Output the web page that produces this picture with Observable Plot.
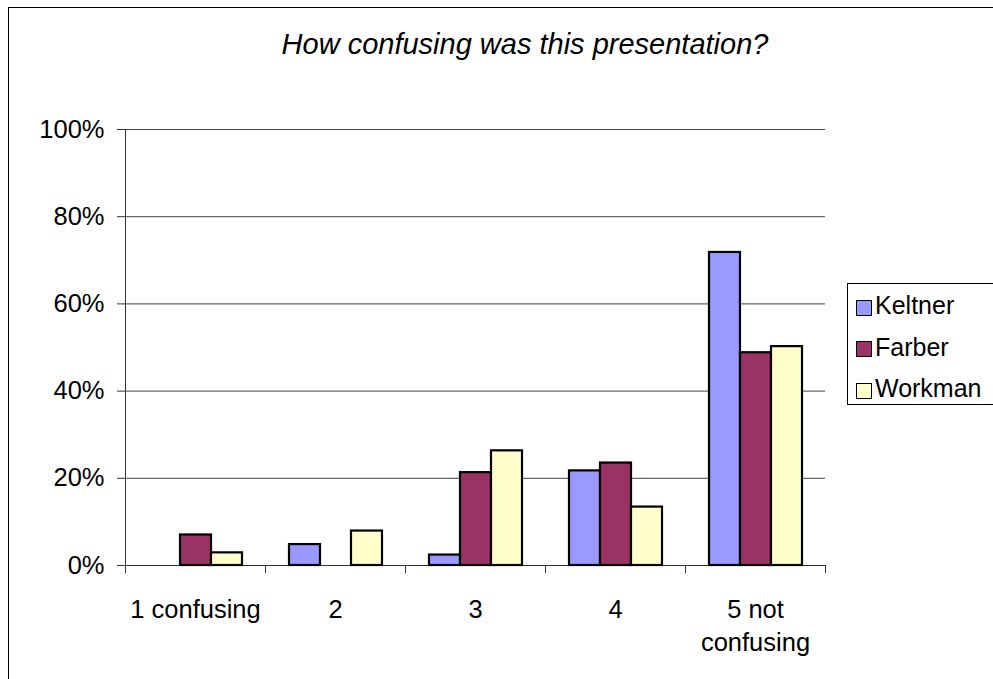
<!DOCTYPE html>
<html>
<head>
<meta charset="utf-8">
<script src="https://cdn.jsdelivr.net/npm/d3@7"></script>
<script src="https://cdn.jsdelivr.net/npm/@observablehq/plot@0.6"></script>
<style>
  html, body { margin: 0; padding: 0; background: #fff; }
  #wrap { position: relative; width: 993px; height: 679px; overflow: hidden; font-family: "Liberation Sans", Arial, sans-serif; color: #000; }
  #border { position: absolute; left: 8px; top: 7px; width: 1100px; height: 800px; border: 1.5px solid #000; box-sizing: border-box; }
  #title { position: absolute; left: 25px; width: 1000px; top: 30px; text-align: center; font-style: italic; font-size: 29px; line-height: 29px; }
  #chart { position: absolute; left: 0; top: 0; }
  #legend { position: absolute; left: 847px; top: 283px; width: 170px; height: 122px; border: 1px solid #000; box-sizing: border-box; background: #fff; }
  .item { position: absolute; left: 8px; display: flex; align-items: center; font-size: 25px; line-height: 25px; }
  .sw { width: 14px; height: 14px; border: 1px solid #000; margin-right: 3px; margin-top: 4px; }
</style>
</head>
<body>
<div id="wrap">
  <div id="border"></div>
  <div id="chart"></div>
  <div id="title">How confusing was this presentation?</div>
  <div id="legend"></div>
</div>
<script>
const categories = ["1 confusing", "2", "3", "4", "5 not confusing"];
const tickLabels = ["1 confusing", "2", "3", "4", "5 not\nconfusing"];
const series = ["Keltner", "Farber", "Workman"];
const keltner = [0, 4.8, 2.4, 21.7, 71.8];
const farber = [7.0, 0, 21.3, 23.5, 48.8];
const workman = [2.9, 7.9, 26.3, 13.4, 50.2];
const colors = ["#9999FF", "#993366", "#FFFFCC"];
const yTicks = [0, 20, 40, 60, 80, 100];

const valuesBySeries = [keltner, farber, workman];
const rows = [];
categories.forEach((c, i) => {
  series.forEach((s, j) => rows.push({category: c, series: s, value: valuesBySeries[j][i]}));
});

const W = 993, H = 679, ML = 125, MR = 168, MT = 129, MB = 114;
const step = (W - ML - MR) / categories.length;

const plot = Plot.plot({
  width: W, height: H,
  marginLeft: ML, marginRight: MR, marginTop: MT, marginBottom: MB,
  style: {fontFamily: "'Liberation Sans', Arial, sans-serif", fontSize: "25.5px", color: "#000", background: "transparent", overflow: "visible"},
  fx: {domain: categories, padding: 0, label: null},
  x: {domain: series, paddingInner: 0, paddingOuter: 0.72, axis: null},
  y: {domain: [0, 100], label: null},
  color: {domain: series, range: colors},
  marks: [
    Plot.gridY(yTicks.slice(1), {stroke: "#444", strokeOpacity: 1}),
    Plot.ruleY([0], {stroke: "#333"}),
    Plot.frame({anchor: "left", facetAnchor: "left", stroke: "#333"}),
    Plot.axisY(yTicks, {tickSize: 8, tickPadding: 13, tickFormat: d => d + "%", label: null, stroke: "#333"}),
    Plot.barY(rows.filter(d => d.value > 0), {fx: "category", x: "series", y: "value", fill: "series", stroke: "#000", strokeWidth: 2.2}),
    Plot.axisFx({anchor: "bottom", tickSize: 0, tickPadding: 29, tickFormat: d => tickLabels[categories.indexOf(d)], label: null, lineHeight: 1.3}),
    Plot.axisFx({anchor: "bottom", tickSize: 8, tickFormat: () => "", dx: -step / 2, label: null, stroke: "#333"}),
    Plot.axisFx([categories[categories.length - 1]], {anchor: "bottom", tickSize: 8, tickFormat: () => "", dx: step / 2, label: null, stroke: "#333"})
  ]
});
document.getElementById("chart").appendChild(plot);

const legend = document.getElementById("legend");
series.forEach((s, j) => {
  const it = document.createElement("div");
  it.className = "item";
  it.style.top = (9 + j * 41.5) + "px";
  const sw = document.createElement("div");
  sw.className = "sw";
  sw.style.background = colors[j];
  const tx = document.createElement("span");
  tx.textContent = s;
  it.appendChild(sw);
  it.appendChild(tx);
  legend.appendChild(it);
});
</script>
</body>
</html>
